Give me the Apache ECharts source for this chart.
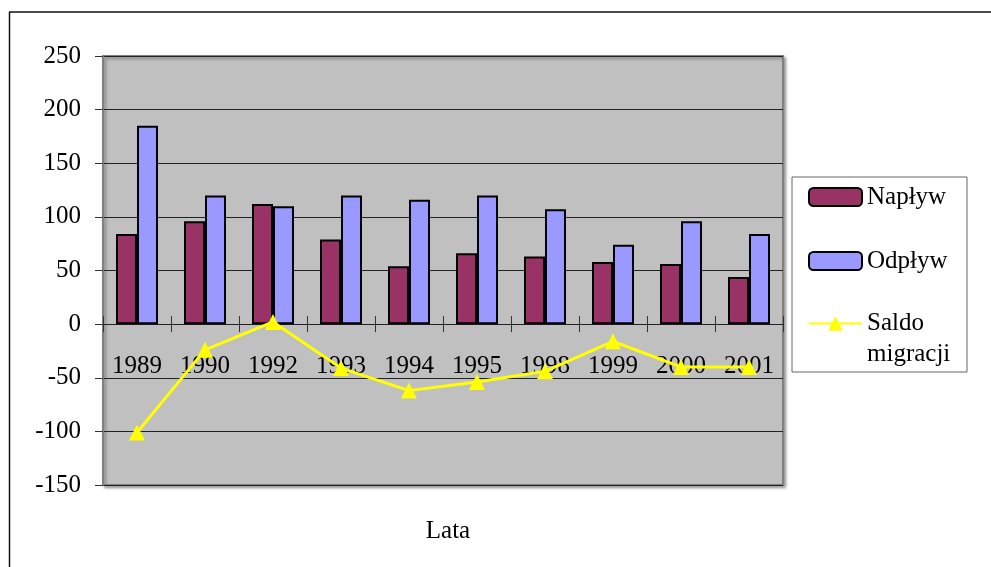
<!DOCTYPE html>
<html>
<head>
<meta charset="utf-8">
<script src="https://cdn.jsdelivr.net/npm/echarts@6/dist/echarts.min.js"></script>
<style>html,body{margin:0;padding:0;background:#fff;}#c{width:991px;height:567px;}</style>
</head>
<body>
<div id="c"></div>
<script>
var years = ['1989','1990','1992','1993','1994','1995','1998','1999','2000','2001'];
var naplyw = [84, 96, 112, 79, 54, 66, 63, 58, 56, 44];
var odplyw = [185, 120, 110, 120, 116, 120, 107, 74, 96, 84];
var saldo = [-101, -24, 2, -41, -62, -54, -44, -16, -40, -40];
var yTicks = {min: -150, max: 250, interval: 50};

var FONT = 'Liberation Serif';
var gridPos = {left: 103, top: 56, right: 208, bottom: 82};
// category axis drawn across the value-0 line (plot height * share of range below zero)
var plotH = 567 - gridPos.top - gridPos.bottom;
var zeroOffset = -plotH * (0 - yTicks.min) / (yTicks.max - yTicks.min);

var chart = echarts.init(document.getElementById('c'));
chart.setOption({
  animation: false,
  backgroundColor: '#fff',
  textStyle: {fontFamily: FONT},
  grid: [
    Object.assign({show: true, backgroundColor: '#c0c0c0', borderColor: '#808080', borderWidth: 2,
      shadowColor: 'rgba(0,0,0,0.35)', shadowBlur: 3, shadowOffsetX: 2, shadowOffsetY: 2}, gridPos),
    Object.assign({show: false}, gridPos)
  ],
  xAxis: [{
    type: 'category', data: years, gridIndex: 0, position: 'bottom', offset: zeroOffset,
    axisLine: {onZero: false, lineStyle: {color: '#222', width: 1}},
    axisTick: {show: true, length: 8, lineStyle: {color: '#333'}},
    axisLabel: {interval: 0, margin: 30, fontFamily: FONT, fontSize: 25, color: '#000'},
    splitLine: {show: false}
  }, {
    type: 'category', data: years, gridIndex: 1, position: 'bottom', offset: zeroOffset,
    axisLine: {onZero: false, show: false},
    axisTick: {show: true, inside: true, length: 8, lineStyle: {color: '#333'}},
    axisLabel: {show: false},
    splitLine: {show: false}
  }],
  yAxis: [{
    type: 'value', gridIndex: 0, min: yTicks.min, max: yTicks.max, interval: yTicks.interval,
    axisLine: {show: true, lineStyle: {color: '#808080', width: 2}},
    axisTick: {show: true, length: 8, lineStyle: {color: '#333'}},
    axisLabel: {margin: 22, fontFamily: FONT, fontSize: 25, color: '#000'},
    splitLine: {show: true, lineStyle: {color: '#222', width: 1}}
  }, {
    type: 'value', gridIndex: 1, min: yTicks.min, max: yTicks.max, interval: yTicks.interval,
    axisLine: {show: false}, axisTick: {show: false}, axisLabel: {show: false}, splitLine: {show: false}
  }],
  legend: [{
    orient: 'vertical', left: 803, top: 177, itemWidth: 53, itemHeight: 18, itemGap: 34,
    data: ['Napływ', 'Odpływ'],
    textStyle: {fontFamily: FONT, fontSize: 25, color: '#000', lineHeight: 30},
    selectedMode: false
  }, {
    orient: 'vertical', left: 803, top: 275, itemWidth: 53, itemHeight: 18,
    data: ['Saldo migracji'],
    formatter: function () { return '{sp| }\n{t|Saldo}\n{t|migracji}'; },
    textStyle: {fontFamily: FONT, fontSize: 25, color: '#000',
      rich: {
        sp: {fontFamily: FONT, fontSize: 25, lineHeight: 31},
        t: {fontFamily: FONT, fontSize: 25, lineHeight: 31, color: '#000'}
      }},
    selectedMode: false
  }],
  graphic: [
    {type: 'line', shape: {x1: 9, y1: 12, x2: 991, y2: 12}, style: {stroke: '#111', lineWidth: 1.5}, silent: true},
    {type: 'line', shape: {x1: 9.5, y1: 12, x2: 9.5, y2: 567}, style: {stroke: '#111', lineWidth: 1.5}, silent: true},
    {type: 'rect', shape: {x: 792, y: 177, width: 175, height: 195}, style: {fill: '#fff', stroke: '#666', lineWidth: 1}, z: -1, silent: true},
    {type: 'text', x: 448, y: 531, style: {text: 'Lata', font: '25px "Liberation Serif"', fill: '#000', textAlign: 'center', textVerticalAlign: 'middle'}, silent: true}
  ],
  series: [{
    name: 'Napływ', type: 'bar', data: naplyw, barWidth: 21, barGap: '0%',
    itemStyle: {color: '#993366', borderColor: '#000', borderWidth: 2}
  }, {
    name: 'Odpływ', type: 'bar', data: odplyw, barWidth: 21, barGap: '0%',
    itemStyle: {color: '#9999ff', borderColor: '#000', borderWidth: 2}
  }, {
    name: 'Saldo migracji', type: 'line', data: saldo,
    symbol: 'triangle', symbolSize: 16, z: 5,
    lineStyle: {color: '#ffff00', width: 3},
    itemStyle: {color: '#ffff00'}
  }]
});
</script>
</body>
</html>
